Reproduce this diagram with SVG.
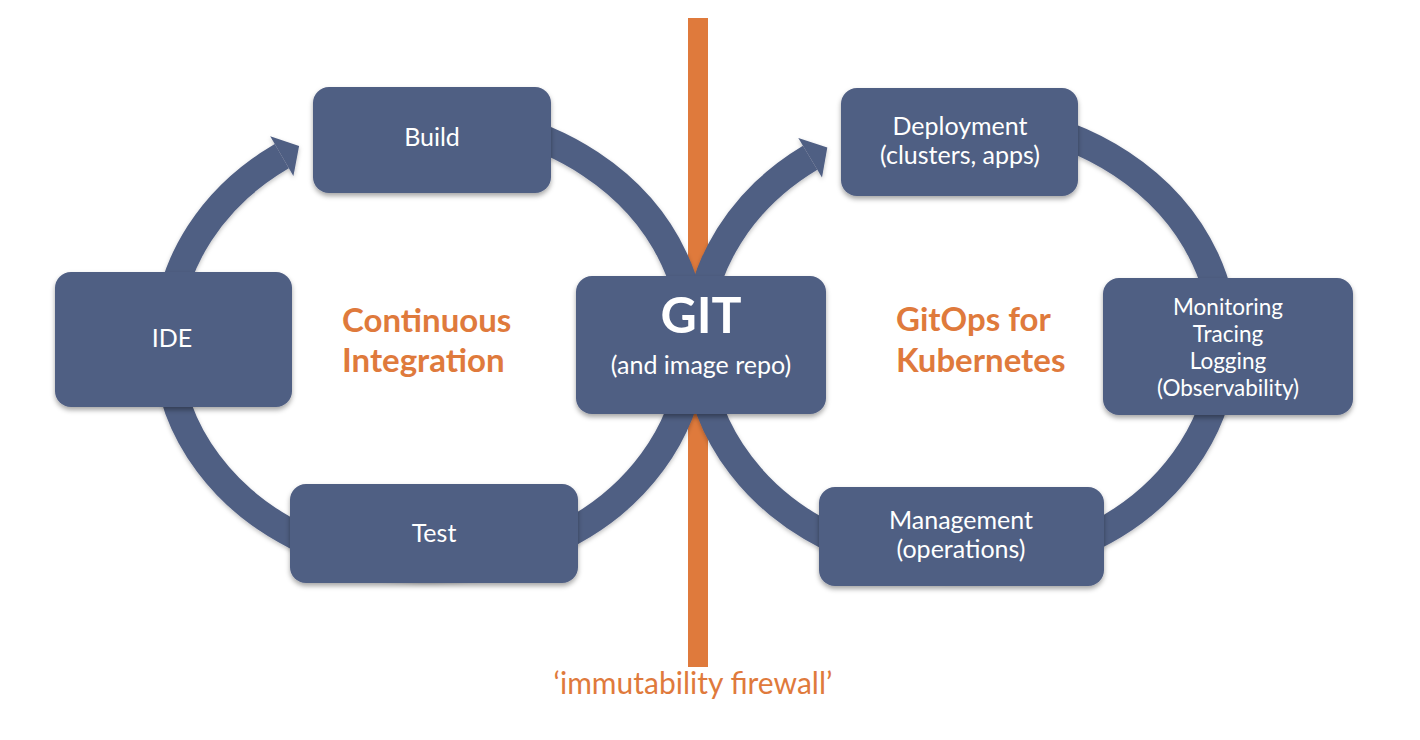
<svg xmlns="http://www.w3.org/2000/svg" width="1420" height="740" viewBox="0 0 1420 740">
<defs>
<style>
.box{fill:#4f5e83;filter:url(#sh);}
.ring{fill:none;stroke:#4f5e83;stroke-width:28;}
.head{fill:#4f5e83;}
.lbl{font-family:Lato,"Liberation Sans",sans-serif;font-size:25px;fill:#ffffff;text-anchor:middle;}
.sm{font-size:22.5px;}
.big{font-family:Lato,"Liberation Sans",sans-serif;font-size:50px;font-weight:bold;fill:#ffffff;text-anchor:middle;}
.title{font-family:Lato,"Liberation Sans",sans-serif;font-size:33px;font-weight:bold;fill:#df7a3c;}
.fw{font-family:Lato,"Liberation Sans",sans-serif;font-size:30px;fill:#df7a3c;text-anchor:middle;}
</style>
<filter id="sh" x="-10%" y="-10%" width="120%" height="130%">
<feDropShadow dx="0" dy="3" stdDeviation="2.5" flood-color="#000" flood-opacity="0.35"/>
</filter>
<filter id="rsh" x="-10%" y="-10%" width="120%" height="130%">
<feDropShadow dx="0" dy="2" stdDeviation="2" flood-color="#000" flood-opacity="0.25"/>
</filter>
</defs>
<rect width="1420" height="740" fill="#ffffff"/>
<g id="firewall">
<rect x="688" y="18" width="20" height="649" fill="#df7a3c"/>
<text class="fw" x="693" y="694">‘immutability firewall’</text>
</g>
<g id="connectors" filter="url(#rsh)">
<path class="ring" d="M 340.05 130.6 A 263 225 0 1 1 281.8 156.1"/>
<polygon class="head" points="270.2,136.2 299.1,146.0 293.4,176.0"/>
<path class="ring" d="M 871.05 130.6 A 263 225 0 1 1 810.15 157.69"/>
<polygon class="head" points="798.3,138.0 827.3,147.4 822.0,177.4"/>
</g>
<g id="node-build">
<rect class="box" x="313" y="87" width="238" height="106" rx="16"/>
<text class="lbl" x="432" y="146">Build</text>
</g>
<g id="node-ide">
<rect class="box" x="55" y="272" width="237" height="135" rx="16"/>
<text class="lbl" x="172" y="347">IDE</text>
</g>
<g id="node-test">
<rect class="box" x="290" y="484" width="288" height="99" rx="16"/>
<text class="lbl" x="434" y="542">Test</text>
</g>
<g id="node-git">
<rect class="box" x="576" y="276" width="250" height="138" rx="16"/>
<text class="big" x="701" y="333">GIT</text>
<text class="lbl" x="701" y="374">(and image repo)</text>
</g>
<g id="node-deployment">
<rect class="box" x="841" y="88" width="237" height="108" rx="16"/>
<text class="lbl" x="960" y="135">Deployment</text>
<text class="lbl" x="960" y="164">(clusters, apps)</text>
</g>
<g id="node-monitoring">
<rect class="box" x="1103" y="278" width="250" height="137" rx="16"/>
<text class="lbl sm" x="1228" y="315">Monitoring</text>
<text class="lbl sm" x="1228" y="342">Tracing</text>
<text class="lbl sm" x="1228" y="369">Logging</text>
<text class="lbl sm" x="1228" y="396">(Observability)</text>
</g>
<g id="node-management">
<rect class="box" x="819" y="487" width="285" height="99" rx="16"/>
<text class="lbl" x="961" y="529">Management</text>
<text class="lbl" x="961" y="558">(operations)</text>
</g>
<g id="label-ci">
<text class="title" x="342" y="332">Continuous</text>
<text class="title" x="342" y="372">Integration</text>
</g>
<g id="label-gitops">
<text class="title" x="896" y="331">GitOps for</text>
<text class="title" x="896" y="372">Kubernetes</text>
</g>
</svg>
